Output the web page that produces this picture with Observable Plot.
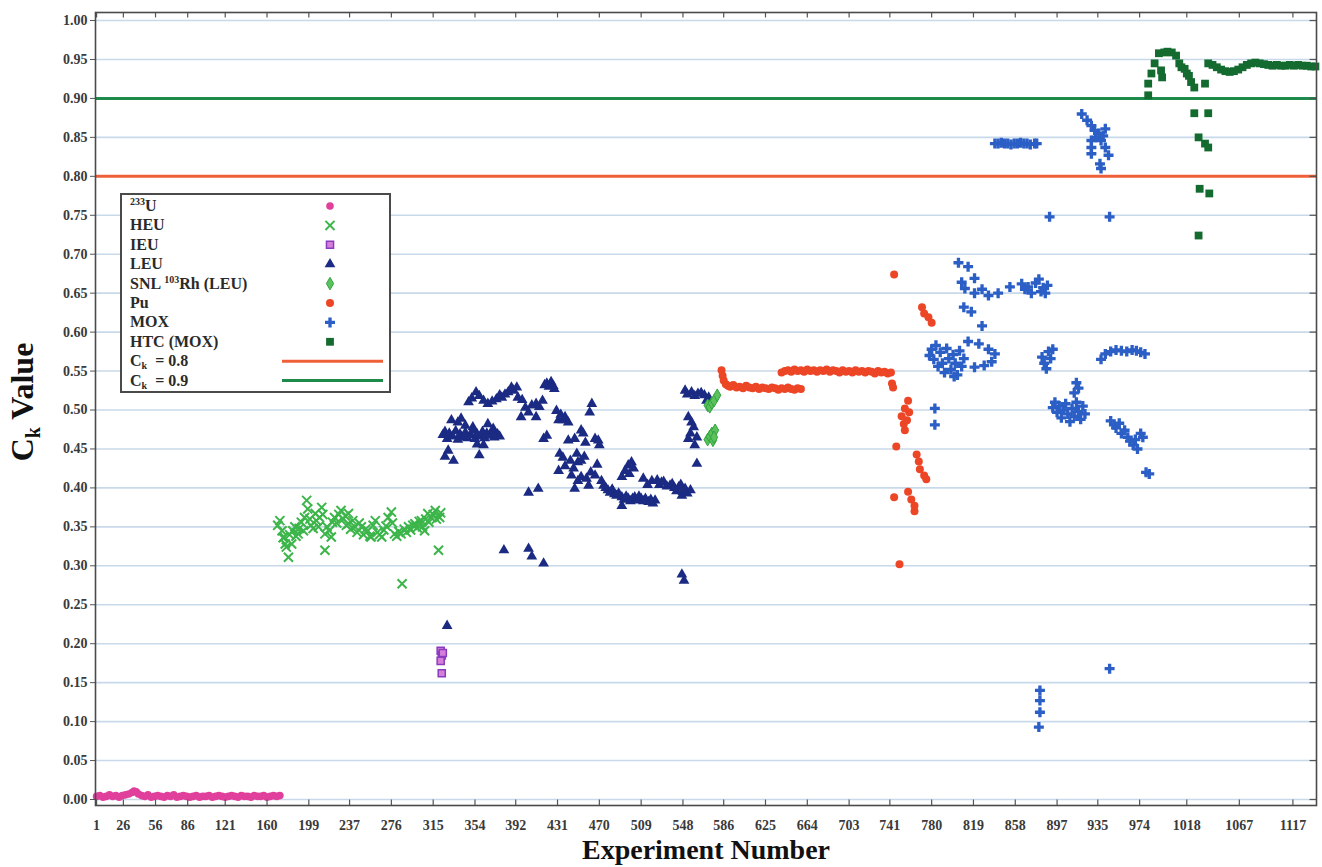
<!DOCTYPE html>
<html><head><meta charset="utf-8">
<script src="https://cdn.jsdelivr.net/npm/d3@7"></script>
<script src="https://cdn.jsdelivr.net/npm/@observablehq/plot@0.6"></script>
<style>
body{margin:0;background:#fff;}
#wrap{position:relative;width:1322px;height:867px;overflow:hidden;}
#legend{position:absolute;left:120px;top:193px;}
</style></head><body><div id="wrap"></div>
<script>
// ---- axis ticks ----
const xTickLabels = [1,26,56,86,121,160,199,237,276,315,354,392,431,470,509,548,586,625,664,703,741,780,819,858,897,935,974,1018,1067,1117];
const yTicks = [0,0.05,0.10,0.15,0.20,0.25,0.30,0.35,0.40,0.45,0.50,0.55,0.60,0.65,0.70,0.75,0.80,0.85,0.90,0.95,1.00];
const thresholds = [0.8, 0.9];

// ---- series: [experiment number, Ck] ----
const u233 = [[1,0.004],[4,0.005],[7,0.003],[10,0.004],[13,0.006],[16,0.004],[19,0.005],[22,0.003],[25,0.005],[28,0.006],[31,0.007],[34,0.009],[36,0.011],[38,0.010],[40,0.007],[43,0.005],[46,0.004],[49,0.006],[52,0.003],[55,0.004],[58,0.005],[61,0.004],[64,0.003],[67,0.005],[70,0.004],[73,0.006],[76,0.003],[79,0.004],[82,0.005],[85,0.004],[88,0.003],[91,0.004],[94,0.005],[97,0.003],[100,0.004],[103,0.004],[106,0.005],[109,0.003],[112,0.004],[115,0.005],[118,0.004],[121,0.003],[124,0.004],[127,0.005],[130,0.004],[133,0.003],[136,0.005],[139,0.004],[142,0.004],[145,0.003],[148,0.005],[151,0.004],[154,0.004],[157,0.005],[160,0.003],[163,0.004],[166,0.005],[169,0.004],[172,0.005]];

const heu = [[170,0.352],[172,0.358],[174,0.345],[175,0.336],[176,0.337],[177,0.328],[178,0.324],[180,0.311],[181,0.340],[183,0.328],[184,0.345],[186,0.350],[187,0.338],[189,0.341],[190,0.348],[192,0.356],[194,0.345],[195,0.362],[197,0.384],[198,0.373],[200,0.360],[201,0.352],[203,0.348],[205,0.367],[206,0.358],[208,0.350],[209,0.362],[211,0.375],[212,0.366],[214,0.341],[214,0.320],[216,0.350],[218,0.345],[220,0.337],[221,0.356],[223,0.362],[225,0.355],[227,0.366],[229,0.371],[231,0.360],[233,0.364],[234,0.352],[236,0.367],[236,0.354],[238,0.347],[240,0.358],[242,0.350],[244,0.343],[246,0.355],[248,0.350],[250,0.340],[252,0.347],[254,0.345],[256,0.338],[257,0.337],[259,0.352],[261,0.358],[263,0.343],[265,0.340],[267,0.337],[269,0.346],[271,0.351],[273,0.362],[276,0.369],[277,0.355],[279,0.341],[281,0.338],[283,0.344],[285,0.341],[286,0.277],[288,0.347],[290,0.343],[292,0.350],[294,0.346],[296,0.352],[298,0.354],[300,0.349],[302,0.357],[304,0.358],[305,0.350],[307,0.345],[308,0.360],[310,0.367],[311,0.356],[313,0.362],[315,0.366],[317,0.371],[318,0.360],[320,0.320],[321,0.362],[322,0.368]];

const ieu = [[322,0.191],[323,0.185],[322,0.178],[323,0.162],[324,0.188]];

const leu = [[332,0.487],[341,0.489],[366,0.482],[371,0.476],[329,0.448],[334,0.435],[358,0.442],
[348,0.510],[355,0.523],[362,0.512],[366,0.508],[374,0.514],[379,0.516],[385,0.523],[388,0.529],[393,0.529],[394,0.516],[397,0.491],[404,0.497],[407,0.506],[411,0.508],[411,0.491],[421,0.534],[425,0.536],[428,0.527],[430,0.499],[432,0.487],[436,0.487],[441,0.484],[418,0.463],[421,0.467],[441,0.461],[447,0.463],[453,0.474],[463,0.508],[461,0.497],[466,0.463],[469,0.461],
[433,0.444],[436,0.439],[443,0.435],[449,0.444],[450,0.433],[453,0.435],[432,0.422],[444,0.416],[450,0.409],[447,0.399],[453,0.414],[458,0.412],[460,0.403],[466,0.416],[472,0.409],[474,0.403],[478,0.397],[484,0.392],[491,0.388],[491,0.377],[497,0.386],[503,0.388],[509,0.386],[516,0.382],[522,0.384],[494,0.422],[497,0.429],[500,0.433],[491,0.414],[511,0.412],[519,0.409],[528,0.407],[536,0.403],[544,0.401],[550,0.399],[547,0.390],[404,0.394],[413,0.399],
[550,0.525],[556,0.523],[562,0.521],[568,0.519],[572,0.516],[553,0.491],[556,0.484],[558,0.478],[553,0.463],[561,0.465],[561,0.431],
[328,0.223],[381,0.320],[404,0.322],[407,0.312],[418,0.303],[547,0.289],[549,0.281],
[324,0.468],[326,0.472],[328,0.463],[330,0.470],[333,0.466],[336,0.473],[338,0.462],[340,0.469],[343,0.465],[345,0.471],[347,0.464],[350,0.468],[352,0.474],[354,0.463],[356,0.469],[359,0.466],[361,0.472],[363,0.464],[365,0.470],[368,0.467],[370,0.473],[372,0.465],[375,0.469],[377,0.466],[345,0.480],[352,0.478],[338,0.484],[356,0.456],[362,0.455],[326,0.440],
[351,0.515],[358,0.518],[370,0.511],[377,0.519],[382,0.520],[390,0.525],[398,0.513],[401,0.503],[414,0.504],[417,0.512],[423,0.530],[427,0.531],[419,0.532],[438,0.491],[434,0.494],
[455,0.470],[457,0.458],[438,0.428],[446,0.425],[456,0.440],[462,0.420],[468,0.430],[470,0.455],
[476,0.400],[480,0.394],[482,0.398],[486,0.390],[488,0.393],[493,0.385],[495,0.389],[499,0.383],[501,0.386],[505,0.384],[507,0.389],[511,0.383],[513,0.386],[518,0.385],[520,0.380],[515,0.404],[524,0.410],[526,0.404],[530,0.408],[533,0.402],[538,0.405],[540,0.400],[542,0.396],[546,0.404],[548,0.395],[552,0.393],[555,0.397],[498,0.418],[502,0.425],
[552,0.520],[559,0.518],[565,0.522],[570,0.512],[555,0.470],[559,0.455]];

const snl = [[571,0.506],[573,0.504],[575,0.509],[577,0.512],[580,0.519],[571,0.462],[573,0.466],[575,0.470],[576,0.461],[578,0.474],[577,0.465]];

const pu = [[584,0.551],[585,0.544],[586,0.538],[588,0.533],[590,0.531],[592,0.530],[595,0.532],[598,0.529],[601,0.530],[604,0.528],[607,0.531],[610,0.529],[613,0.528],[616,0.530],[619,0.527],[622,0.529],[625,0.528],[628,0.527],[631,0.529],[634,0.528],[637,0.526],[640,0.528],[643,0.527],[646,0.529],[649,0.527],[652,0.526],[655,0.528],[658,0.527],
[640,0.548],[643,0.550],[646,0.551],[649,0.549],[652,0.552],[655,0.550],[658,0.551],[661,0.549],[664,0.552],[667,0.550],[670,0.551],[673,0.549],[676,0.551],[679,0.550],[682,0.552],[685,0.549],[688,0.551],[691,0.550],[694,0.548],[697,0.551],[700,0.549],[703,0.550],[706,0.548],[709,0.551],[712,0.549],[715,0.550],[718,0.548],[721,0.550],[724,0.549],[727,0.547],[730,0.550],[733,0.548],[736,0.549],[739,0.547],[742,0.548],
[743,0.534],[744,0.529],[745,0.674],[758,0.512],[755,0.502],[759,0.497],[752,0.492],[754,0.482],[755,0.474],[757,0.487],[747,0.453],[766,0.443],[768,0.434],[769,0.424],[773,0.416],[775,0.411],[745,0.388],[758,0.395],[761,0.385],[764,0.377],[764,0.370],[750,0.302],[771,0.632],[773,0.624],[777,0.619],[780,0.612]];

const mox = [[783,0.502],[783,0.481],
[778,0.570],[780,0.578],[782,0.565],[784,0.583],[786,0.556],[788,0.574],[790,0.560],[792,0.548],[794,0.579],[796,0.566],[798,0.552],[800,0.571],[802,0.560],[804,0.545],[806,0.576],[808,0.556],[810,0.566],[801,0.543],
[805,0.689],[814,0.684],[820,0.669],[808,0.664],[811,0.656],[820,0.650],[827,0.655],[833,0.647],[842,0.650],[853,0.658],[810,0.632],[817,0.626],[827,0.608],[814,0.588],[824,0.585],[833,0.578],[839,0.572],[836,0.562],[829,0.557],[820,0.555],
[839,0.842],[842,0.842],[845,0.843],[848,0.842],[851,0.842],[854,0.841],[857,0.842],[860,0.842],[863,0.843],[866,0.842],[869,0.842],[872,0.841],[876,0.842],[878,0.842],
[864,0.662],[867,0.655],[870,0.658],[873,0.650],[877,0.663],[880,0.668],[882,0.652],[884,0.657],[886,0.650],[888,0.660],
[890,0.748],[946,0.748],
[881,0.140],[881,0.127],[881,0.112],[880,0.093],
[883,0.568],[885,0.560],[887,0.553],[889,0.575],[891,0.566],[893,0.578],
[893,0.503],[895,0.510],[897,0.497],[899,0.505],[901,0.490],[903,0.500],[905,0.508],[907,0.495],[909,0.485],[911,0.502],[913,0.492],[915,0.510],[917,0.498],[919,0.488],[921,0.505],[923,0.495],[913,0.522],[915,0.535],[917,0.528],
[920,0.880],[925,0.872],[929,0.865],[932,0.859],[936,0.855],[942,0.861],[929,0.846],[938,0.846],[929,0.837],[942,0.837],[929,0.829],[945,0.827],[937,0.816],[938,0.810],[933,0.850],[940,0.852],
[938,0.565],[942,0.572],[947,0.575],[952,0.577],[957,0.576],[962,0.575],[967,0.577],[971,0.576],[975,0.574],[979,0.572],
[947,0.486],[950,0.481],[952,0.477],[955,0.483],[957,0.470],[960,0.474],[963,0.465],[965,0.460],[968,0.455],[970,0.462],[972,0.450],[975,0.470],[977,0.465],[980,0.420],[983,0.418],
[946,0.168]];

const htc = [[982,0.904],[982,0.919],[985,0.932],[988,0.945],[992,0.958],[994,0.936],[995,0.927],[997,0.959],[1000,0.960],[1004,0.959],[1008,0.955],[1011,0.945],[1013,0.940],[1016,0.938],[1018,0.932],[1020,0.929],[1022,0.921],[1025,0.914],[1035,0.919],[1025,0.881],[1038,0.881],[1029,0.850],[1035,0.842],[1038,0.837],[1030,0.784],[1039,0.778],[1029,0.724],
[1038,0.945],[1042,0.943],[1046,0.940],[1050,0.937],[1054,0.935],[1058,0.934],[1062,0.935],[1066,0.937],[1070,0.940],[1074,0.943],[1078,0.945],[1082,0.946],[1086,0.945],[1090,0.944],[1094,0.943],[1098,0.942],[1102,0.943],[1106,0.942],[1110,0.942],[1114,0.943],[1118,0.942],[1122,0.943],[1126,0.942],[1130,0.942],[1134,0.941],[1138,0.941]];

// ---- styling per series ----
const series = [
  {key: "u233", data: u233, symbol: "circle", fill: "#e0409c", stroke: "none", r: 3.8},
  {key: "heu", data: heu, symbol: "times", fill: "none", stroke: "#3cb54a", r: 4.2, sw: 2},
  {key: "ieu", data: ieu, symbol: "square", fill: "#d57fd8", stroke: "#8a3cc0", r: 4, sw: 1.5},
  {key: "leu", data: leu, symbol: "triangle", fill: "#1b2a82", stroke: "none", r: 4},
  {key: "snl", data: snl, symbol: "diamond", fill: "#5cc15c", stroke: "#2fa540", r: 3.8, sw: 1},
  {key: "pu", data: pu, symbol: "circle", fill: "#ec4626", stroke: "none", r: 4},
  {key: "mox", data: mox, symbol: "cross", fill: "#2b5fc6", stroke: "none", r: 4.2},
  {key: "htc", data: htc, symbol: "square", fill: "#146b30", stroke: "none", r: 4.4}
];

const yMin = -0.0077, yMax = 1.0103, xMin = 0, xMax = 1139;

const dotMarks = series.map(s => Plot.dot(s.data, {
  x: d => d[0], y: d => d[1], symbol: s.symbol, r: s.r,
  fill: s.fill, stroke: s.stroke, strokeWidth: s.sw || 1
}));

const chart = Plot.plot({
  width: 1322, height: 867,
  marginTop: 12, marginRight: 6, marginBottom: 62, marginLeft: 95,
  style: {fontFamily: "'Liberation Serif', 'DejaVu Serif', serif", fontSize: "14px", fontWeight: "bold", color: "#3a3a3a", background: "white"},
  x: {domain: [xMin, xMax], label: null},
  y: {domain: [yMin, yMax], label: null},
  marks: [
    Plot.ruleY(yTicks, {stroke: "#c8d9e9", strokeWidth: 1.6}),
    Plot.ruleY([thresholds[0]], {stroke: "#ef5f38", strokeWidth: 3}),
    Plot.ruleY([thresholds[1]], {stroke: "#1e8a4c", strokeWidth: 3}),
    ...dotMarks,
    Plot.axisY({ticks: yTicks, tickFormat: d3.format(".2f"), tickSize: 5, tickPadding: 3, label: null, stroke: "#555"}),
    Plot.axisX({ticks: xTickLabels, tickFormat: d => String(d), tickSize: 0, tickPadding: 15, label: null}),
    Plot.ruleX(xTickLabels, {y1: yMin, y2: yMin + 0.007, stroke: "#555", strokeWidth: 1.2}),
    Plot.ruleX(xTickLabels, {y1: yMax, y2: yMax - 0.007, stroke: "#555", strokeWidth: 1.2}),
    Plot.ruleY(yTicks, {x1: xMax, x2: xMax - 6, stroke: "#555", strokeWidth: 1.2}),
    Plot.frame({stroke: "#4a4a4a", strokeWidth: 1.6})
  ]
});

const wrap = document.getElementById("wrap");
wrap.appendChild(chart);

// axis titles
const svg = d3.select(chart);
const yl = svg.append("text")
  .attr("transform", "translate(33,402) rotate(-90)")
  .attr("text-anchor", "middle")
  .attr("font-family", "'Liberation Serif', serif")
  .attr("font-weight", "bold").attr("font-size", 32).attr("fill", "#111");
yl.append("tspan").text("C");
yl.append("tspan").attr("font-size", 20).attr("dy", 7).text("k");
yl.append("tspan").attr("dy", -7).text(" Value");

svg.append("text")
  .attr("x", 706).attr("y", 859)
  .attr("text-anchor", "middle")
  .attr("font-family", "'Liberation Serif', serif")
  .attr("font-weight", "bold").attr("font-size", 28).attr("fill", "#111")
  .text("Experiment Number");

// legend
const legendRows = [
  {parts: [["233", "sup"], ["U", ""]], s: 0},
  {parts: [["HEU", ""]], s: 1},
  {parts: [["IEU", ""]], s: 2},
  {parts: [["LEU", ""]], s: 3},
  {parts: [["SNL ", ""], ["103", "sup"], ["Rh (LEU)", ""]], s: 4},
  {parts: [["Pu", ""]], s: 5},
  {parts: [["MOX", ""]], s: 6},
  {parts: [["HTC (MOX)", ""]], s: 7},
  {parts: [["C", ""], ["k", "sub"], ["  = 0.8", ""]], line: "#ef5f38"},
  {parts: [["C", ""], ["k", "sub"], ["  = 0.9", ""]], line: "#1e8a4c"}
];
const LW = 271, LH = 200;
const lg = d3.select(wrap).append("svg").attr("id", "legend").attr("width", LW).attr("height", LH);
lg.append("rect").attr("x", 1).attr("y", 1).attr("width", LW - 2).attr("height", LH - 2)
  .attr("fill", "white").attr("stroke", "#4a4a4a").attr("stroke-width", 2);
legendRows.forEach((row, i) => {
  const cy = 13 + i * 19.4;
  const t = lg.append("text").attr("x", 10).attr("y", cy + 5)
    .attr("font-family", "'Liberation Serif', serif").attr("font-weight", "bold")
    .attr("font-size", 16).attr("fill", "#2a2a2a").attr("xml:space", "preserve");
  let shift = 0;
  row.parts.forEach(([txt, kind]) => {
    const ts = t.append("tspan").text(txt);
    let target = kind === "sup" ? -6 : kind === "sub" ? 3 : 0;
    if (kind) ts.attr("font-size", 10);
    ts.attr("dy", target - shift);
    shift = target;
  });
  if (row.line) {
    lg.append("line").attr("x1", 162).attr("x2", 263).attr("y1", cy).attr("y2", cy)
      .attr("stroke", row.line).attr("stroke-width", 3);
  } else {
    const s = series[row.s];
    const symMap = {circle: d3.symbolCircle, times: d3.symbolTimes, square: d3.symbolSquare, triangle: d3.symbolTriangle, diamond: d3.symbolDiamond, cross: d3.symbolCross};
    const path = d3.symbol(symMap[s.symbol], Math.PI * s.r * s.r)();
    lg.append("path").attr("d", path).attr("transform", `translate(210,${cy})`)
      .attr("fill", s.fill).attr("stroke", s.stroke).attr("stroke-width", s.sw || 1);
  }
});
</script></body></html>
